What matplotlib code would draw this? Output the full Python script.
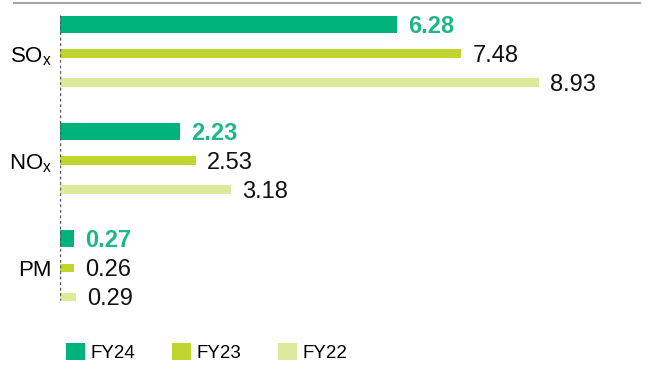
import matplotlib
matplotlib.use("Agg")
import matplotlib.pyplot as plt
from matplotlib.patches import Patch
from matplotlib.lines import Line2D

plt.rcParams["font.family"] = ["Liberation Sans", "DejaVu Sans"]
plt.rcParams["mathtext.fontset"] = "custom"
plt.rcParams["mathtext.rm"] = "Liberation Sans"
plt.rcParams["mathtext.it"] = "Liberation Sans"

categories = ["SO$_\\mathrm{x}$", "NO$_\\mathrm{x}$", "PM"]
series_names = ["FY24", "FY23", "FY22"]
fy24 = [6.28, 2.23, 0.27]
fy23 = [7.48, 2.53, 0.26]
fy22 = [8.93, 3.18, 0.29]

colors = ["#00b27c", "#c0d62f", "#dde99b"]
label_colors = ["#1db884", "#111111", "#111111"]
label_weights = ["bold", "normal", "normal"]
heights = [0.16, 0.075, 0.075]
offsets = [-0.271, 0.0, 0.271]

W, H = 646, 365
fig = plt.figure(figsize=(W / 100, H / 100), dpi=100)
ax = fig.add_axes([60 / W, 1 - 310 / H, 580 / W, 310 / H])

for vals, col, h, off, lc, lw in zip([fy24, fy23, fy22], colors, heights, offsets,
                                     label_colors, label_weights):
    ys = [i + off for i in range(len(categories))]
    ax.barh(ys, vals, height=h, color=col, left=0)
    for y, v in zip(ys, vals):
        ax.annotate(f"{v:.2f}", (v, y), xytext=(8, -1.5), textcoords="offset points",
                    ha="left", va="center", fontsize=17, color=lc, fontweight=lw)

ax.set_xlim(0, 10.81)
ax.set_ylim(2.397, -0.5)

# dashed baseline
ax.vlines(0, -0.36, 2.30, colors="#555555", linestyles=(0, (2, 2)), linewidth=1)

ax.set_yticks(range(len(categories)))
ax.set_yticklabels(categories, fontsize=16)
ax.tick_params(axis="y", length=0, pad=6)
ax.set_xticks([])
for s in ax.spines.values():
    s.set_visible(False)

# top rule
fig.add_artist(Line2D([14 / W, 640 / W], [1 - 3 / H, 1 - 3 / H], color="#a6a6a6",
                      linewidth=1.5, transform=fig.transFigure))

handles = [Patch(facecolor=c, edgecolor="none") for c in colors]
fig.legend(handles, series_names, loc="lower left", bbox_to_anchor=(66 / W, 3 / H),
           ncol=3, frameon=False, fontsize=13.5, handlelength=1.0, handleheight=1.0,
           handletextpad=0.32, columnspacing=1.95, borderpad=0, borderaxespad=0)

fig.savefig("out.png", dpi=100)
